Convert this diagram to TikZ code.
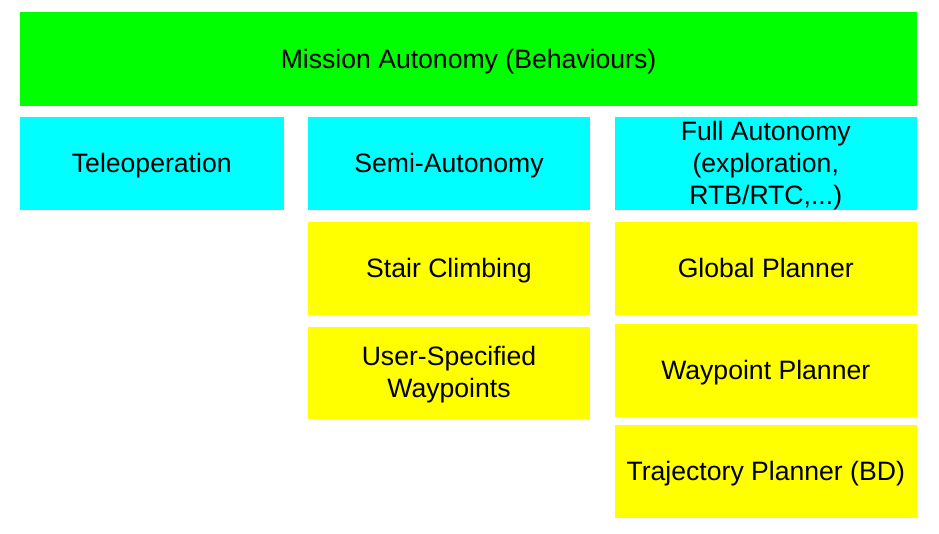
\documentclass[tikz,border=0pt]{standalone}
\usepackage{fontspec}
\setmainfont{Liberation Sans}
\begin{document}
\begin{tikzpicture}[x=1pt,y=-1pt,
  box/.style={inner sep=0pt, outer sep=0pt, align=center, font=\fontsize{26.6}{32}\selectfont},
  greenbox/.style={fill={rgb,255:red,0;green,255;blue,0}},
  cyanbox/.style={fill={rgb,255:red,0;green,255;blue,255}},
  yellowbox/.style={fill={rgb,255:red,255;green,255;blue,0}}]
\useasboundingbox (0,0) rectangle (939,534);
\path[greenbox] (20,12.5) rectangle (917,106);
\node[box] (mission) at (468.5,61.5) {Mission Autonomy (Behaviours)};
\path[cyanbox] (20,117) rectangle (283.5,210.5);
\node[box] (tele) at (151.75,166) {Teleoperation};
\path[cyanbox] (308,117) rectangle (590,210.5);
\node[box] (semi) at (449,166) {Semi-Autonomy};
\path[cyanbox] (614.5,117) rectangle (917,210.5);
\node[box] (full) at (765.75,165.5) {Full Autonomy\\(exploration,\\RTB/RTC,...)};
\path[yellowbox] (308,222) rectangle (590,315);
\node[box] (stair) at (449,270.5) {Stair Climbing};
\path[yellowbox] (308,326.7) rectangle (590,419.3);
\node[box] (user) at (449,375) {User-Specified\\Waypoints};
\path[yellowbox] (614.5,222) rectangle (917,315);
\node[box] (global) at (765.75,268) {Global Planner};
\path[yellowbox] (614.5,324) rectangle (917,416.7);
\node[box] (waypoint) at (765.75,372.5) {Waypoint Planner};
\path[yellowbox] (614.5,425.3) rectangle (917,518.3);
\node[box] (traj) at (765.75,474) {Trajectory Planner (BD)};
\end{tikzpicture}
\end{document}
